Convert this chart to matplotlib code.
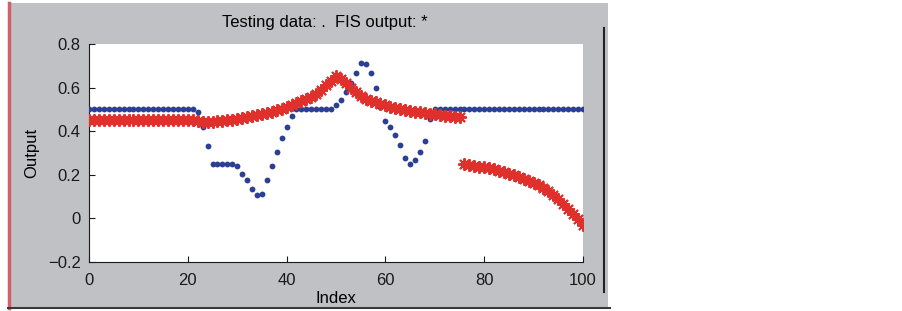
import matplotlib.pyplot as plt
import numpy as np
from matplotlib.patches import Rectangle
from matplotlib.lines import Line2D

plt.rcParams['font.family'] = ['Liberation Sans', 'DejaVu Sans']

# testing data (blue dots)
test_data = ([0.5] * 22 +
             [0.49, 0.42, 0.33] +
             [0.25] * 5 +
             [0.24, 0.205, 0.175, 0.135, 0.108, 0.113, 0.175, 0.24, 0.306, 0.37, 0.42, 0.47] +
             [0.5] * 8 +
             [0.52, 0.545, 0.58, 0.62, 0.668, 0.714, 0.707, 0.668, 0.6, 0.512,
              0.447, 0.418, 0.381, 0.337, 0.276, 0.25, 0.27, 0.306, 0.356, 0.455] +
             [0.5] * 31)

# FIS output (red asterisks)
fis_output = ([0.45] * 22 +
              [0.445, 0.44, 0.44, 0.442, 0.445, 0.447, 0.45, 0.453, 0.456, 0.46,
               0.464, 0.468, 0.473, 0.478, 0.484, 0.49, 0.497, 0.504, 0.512, 0.52,
               0.528, 0.537, 0.547, 0.558, 0.572, 0.59, 0.61, 0.632, 0.652, 0.64,
               0.62, 0.598, 0.578, 0.562, 0.55, 0.54, 0.532, 0.525, 0.518, 0.512,
               0.507, 0.502, 0.498, 0.494, 0.49, 0.486, 0.483, 0.48, 0.477, 0.474,
               0.471, 0.468, 0.466, 0.464,
               0.248, 0.245, 0.241, 0.238, 0.234, 0.23, 0.225, 0.219, 0.212, 0.205,
               0.198, 0.19, 0.181, 0.172, 0.162, 0.152, 0.14, 0.125, 0.107, 0.088,
               0.068, 0.045, 0.02, -0.005, -0.03])

index = np.arange(len(test_data))
xticks = [0, 20, 40, 60, 80, 100]
yticks = [-0.2, 0, 0.2, 0.4, 0.6, 0.8]
ytick_labels = ['\u22120.2', '0', '0.2', '0.4', '0.6', '0.8']

W, H = 902, 311
fig = plt.figure(figsize=(W / 100, H / 100), dpi=100)
fig.patch.set_facecolor('white')

gray = '#c0c1c5'
# window background
fig.patches.append(Rectangle((8 / W, 1 - 308 / H), 600 / W, 305 / H,
                             transform=fig.transFigure, facecolor=gray, edgecolor='none', zorder=-5))
fig.lines.append(Line2D([9 / W, 9 / W], [1 - 3 / H, 1 - 308 / H], transform=fig.transFigure,
                        color='#d0606a', lw=2.5, zorder=-4))
fig.lines.append(Line2D([8 / W, 610 / W], [1 - 308 / H, 1 - 308 / H], transform=fig.transFigure,
                        color='#3a3a3a', lw=1.5, zorder=-4))
fig.lines.append(Line2D([604 / W, 604 / W], [1 - 28 / H, 1 - 292 / H], transform=fig.transFigure,
                        color='#222222', lw=1.5, zorder=-4))

ax = fig.add_axes([89 / W, 49 / H, 494 / W, 218 / H])
ax.set_zorder(2)
ax.set_facecolor('white')
ax.plot(index, test_data, 'o', color='#2b3f94', markersize=4.2, markeredgewidth=0, zorder=3)
ax.plot(index, fis_output, linestyle='none', marker=(8, 2, 0), color='#e0302c',
        markersize=9, markeredgewidth=1.4, zorder=4)

ax.set_xlim(0, 100)
ax.set_ylim(-0.2, 0.8)
ax.set_xticks(xticks)
ax.set_yticks(yticks)
ax.set_yticklabels(ytick_labels)
ax.tick_params(direction='in', length=4, labelsize=12, colors='#1a1a1a')
ax.tick_params(axis='x', pad=8)
ax.tick_params(axis='y', pad=6)
for side in ['top', 'right']:
    ax.spines[side].set_visible(False)
for side in ['left', 'bottom']:
    ax.spines[side].set_color('#1a1a1a')
ax.set_xlabel('Index', fontsize=12, labelpad=2)
ax.set_ylabel('Output', fontsize=12, labelpad=6)
fig.text(325 / W, 1 - 22 / H, 'Testing data: .  FIS output: *', ha='center', va='center', fontsize=12)

fig.savefig('out.png', dpi=100)
